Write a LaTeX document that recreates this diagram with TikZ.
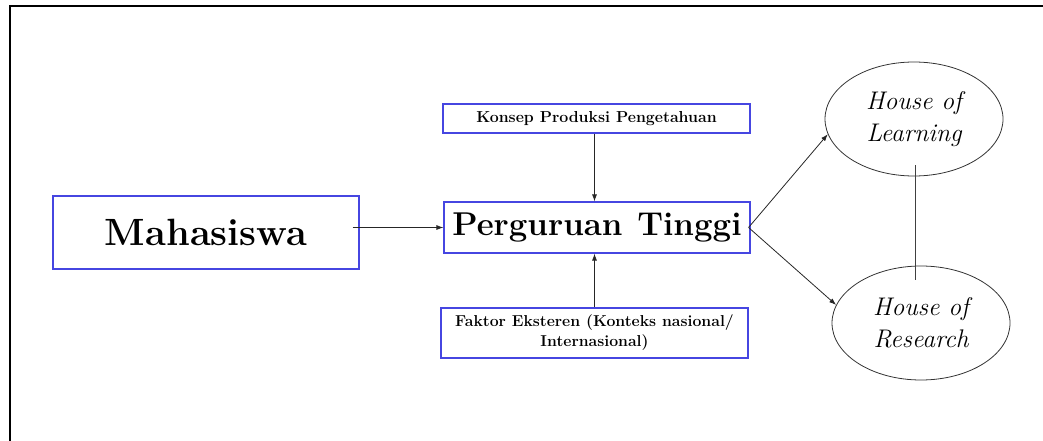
\documentclass[tikz,border=0pt]{standalone}
\usetikzlibrary{shapes.geometric,arrows.meta}
\definecolor{boxblue}{RGB}{70,70,225}
\begin{document}
\begin{tikzpicture}[x=1pt,y=-1pt,
  bluebox/.style={draw=boxblue,line width=1.1pt,inner sep=0pt,align=center,text=black},
  oval/.style={ellipse,draw=black!80,line width=0.8pt,inner sep=0pt,align=center,
     minimum width=178pt,minimum height=114pt,font=\fontsize{25.5}{32}\selectfont\itshape},
  arr/.style={draw=black!85,line width=0.8pt,-{Latex[length=7pt,width=5pt]}},
  conn/.style={draw=black!75,line width=0.8pt}]
\useasboundingbox (0,0) rectangle (1043,441);
\draw[line width=2.2pt] (10,441) -- (10,6) -- (1044,6);
\node[bluebox,minimum width=306pt,minimum height=73pt,font=\fontsize{38}{42}\selectfont\bfseries] (mah) at (206,232.5) {Mahasiswa};
\node[bluebox,minimum width=306pt,minimum height=51pt,font=\fontsize{33}{36}\selectfont\bfseries] (pt) at (597,227.5) {Perguruan\hspace{0.45em}Tinggi};
\node[bluebox,minimum width=307pt,minimum height=29pt,font=\fontsize{15.9}{20}\selectfont\bfseries] (kon) at (596.5,118.5) {Konsep Produksi Pengetahuan};
\node[bluebox,minimum width=307pt,minimum height=50pt,font=\fontsize{15.8}{20}\selectfont\bfseries] (fak) at (594.5,333) {Faktor Eksteren (Konteks nasional/\\Internasional)};
\node[oval] (hl) at (914,119) {House of\\Learning};
\node[oval] (hr) at (921,323) {House of\\Research};
\draw[arr] ([xshift=-7pt]mah.east |- pt.west) -- (pt.west);
\draw[arr] ([xshift=-2pt]kon.south) -- ([xshift=-2pt]kon.south |- pt.north);
\draw[arr] (fak.north) -- (fak.north |- pt.south);
\draw[arr] ([xshift=-2pt]pt.east) -- (hl.190);
\draw[arr] ([xshift=-2pt]pt.east) -- (hr.168);
\coordinate (l1) at (915,165);
\coordinate (l2) at (915,280);
\draw[conn] (l1) -- (l2);
\end{tikzpicture}
\end{document}
